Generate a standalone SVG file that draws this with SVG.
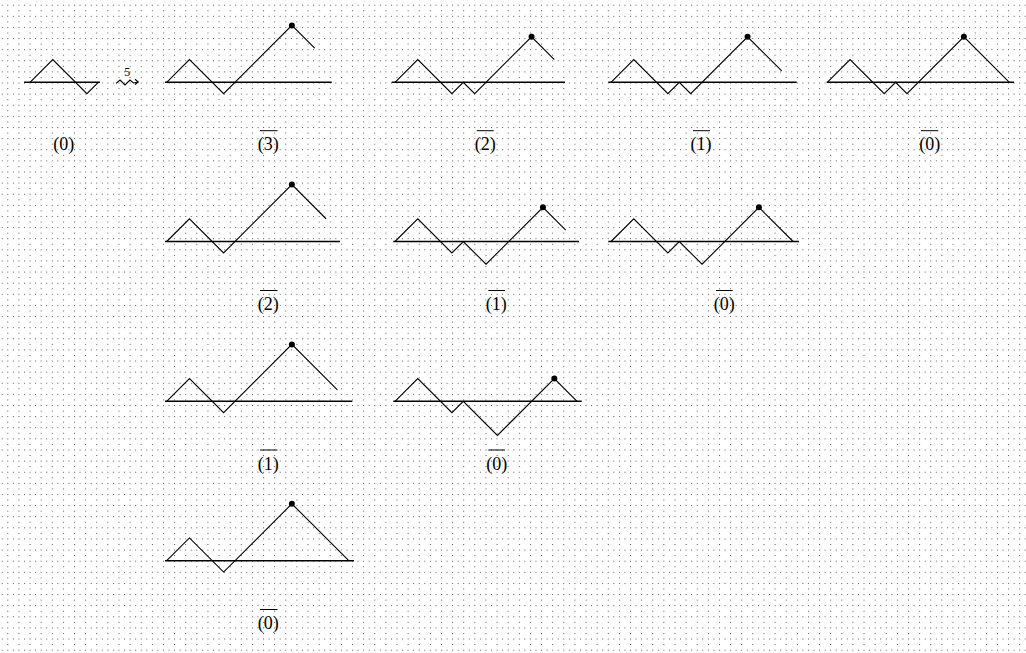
<svg xmlns="http://www.w3.org/2000/svg" width="1026" height="653" viewBox="0 0 1026 653">
<style>
.base{stroke:#000;stroke-width:1.4;fill:none}
.path{stroke:#000;stroke-width:1.1;fill:none;stroke-linejoin:miter}
.dot{fill:#000}
.lbl{font-family:"Liberation Serif","Times New Roman",serif;font-size:18px;fill:#000;text-anchor:middle}
.ov{stroke:#000;stroke-width:1}
.num{font-family:"Liberation Serif","Times New Roman",serif;font-size:12px;fill:#000;text-anchor:middle}
</style>
<defs>
<pattern id="grid" x="7.3" y="4.7" width="11.12" height="11.12" patternUnits="userSpaceOnUse">
<rect x="0" y="0" width="1" height="1" fill="#555"/>
<rect x="5.56" y="0" width="1" height="1" fill="#555"/>
<rect x="0" y="5.56" width="1" height="1" fill="#555"/>
</pattern>
</defs>
<rect x="0" y="0" width="1026" height="653" fill="#fff"/>
<rect x="0" y="0" width="1026" height="653" fill="url(#grid)"/>

<g id="f0">
<path class="base" d="M24,82.3 H100"/>
<path class="path" d="M30,82.3 l22.76,-22.76 l34.14,34.14 l11.38,-11.38"/>
<text class="lbl" x="63.7" y="150">(0)</text>
</g>

<g id="connectors">
<text class="num" x="127.3" y="76">5</text>
<path class="path" d="M116,83.3 L120,80 L125,85 L130,80 L133.5,83 L138,82"/>
<path class="path" d="M135,79.3 L138.3,82 L135,84.5"/>
</g>

<g id="f1">
<path class="base" d="M165,82.3 H331.7"/>
<path class="path" d="M166.7,82.3 l22.76,-22.76 l34.14,34.14 l68.28,-68.28 l22.76,22.76"/>
<circle class="dot" cx="291.88" cy="25.4" r="3"/>
<line class="ov" x1="260" y1="130.7" x2="277.5" y2="130.7"/>
<text class="lbl" x="268.3" y="150">(3)</text>
</g>

<g id="f2">
<path class="base" d="M391.7,82.3 H565"/>
<path class="path" d="M395,82.3 l22.76,-22.76 l34.14,34.14 l11.38,-11.38 l11.38,11.38 l56.9,-56.9 l22.76,22.76"/>
<circle class="dot" cx="531.56" cy="36.78" r="3"/>
<line class="ov" x1="476.7" y1="130.7" x2="493.7" y2="130.7"/>
<text class="lbl" x="485.3" y="150">(2)</text>
</g>

<g id="f3">
<path class="base" d="M608.3,82.3 H796.7"/>
<path class="path" d="M611,82.3 l22.76,-22.76 l34.14,34.14 l11.38,-11.38 l11.38,11.38 l56.9,-56.9 l34.14,34.14"/>
<circle class="dot" cx="747.56" cy="36.78" r="3"/>
<line class="ov" x1="693" y1="130.7" x2="710" y2="130.7"/>
<text class="lbl" x="701" y="150">(1)</text>
</g>

<g id="f4">
<path class="base" d="M826.7,82.3 H1014"/>
<path class="path" d="M827.3,82.3 l22.76,-22.76 l34.14,34.14 l11.38,-11.38 l11.38,11.38 l56.9,-56.9 l45.52,45.52"/>
<circle class="dot" cx="963.86" cy="36.78" r="3"/>
<line class="ov" x1="921" y1="130.7" x2="938.3" y2="130.7"/>
<text class="lbl" x="929.7" y="150">(0)</text>
</g>

<g id="f5">
<path class="base" d="M165,241.5 H340"/>
<path class="path" d="M166.7,241.5 l22.76,-22.76 l34.14,34.14 l68.28,-68.28 l34.14,34.14"/>
<circle class="dot" cx="291.88" cy="184.6" r="3"/>
<line class="ov" x1="260" y1="290.5" x2="277.5" y2="290.5"/>
<text class="lbl" x="268.3" y="310">(2)</text>
</g>

<g id="f6">
<path class="base" d="M393.3,241.5 H579"/>
<path class="path" d="M395,241.5 l22.76,-22.76 l34.14,34.14 l11.38,-11.38 l22.76,22.76 l56.9,-56.9 l22.76,22.76"/>
<circle class="dot" cx="542.94" cy="207.36" r="3"/>
<line class="ov" x1="488.3" y1="290.5" x2="505" y2="290.5"/>
<text class="lbl" x="496.3" y="310">(1)</text>
</g>

<g id="f7">
<path class="base" d="M608.3,241.5 H799"/>
<path class="path" d="M611,241.5 l22.76,-22.76 l34.14,34.14 l11.38,-11.38 l22.76,22.76 l56.9,-56.9 l34.14,34.14"/>
<circle class="dot" cx="758.94" cy="207.36" r="3"/>
<line class="ov" x1="716" y1="290.5" x2="732.7" y2="290.5"/>
<text class="lbl" x="724.2" y="310">(0)</text>
</g>

<g id="f8">
<path class="base" d="M165,401.3 H352.3"/>
<path class="path" d="M166.7,401.3 l22.76,-22.76 l34.14,34.14 l68.28,-68.28 l45.52,45.52"/>
<circle class="dot" cx="291.88" cy="344.4" r="3"/>
<line class="ov" x1="260" y1="450" x2="277.5" y2="450"/>
<text class="lbl" x="268.3" y="469.5">(1)</text>
</g>

<g id="f9">
<path class="base" d="M393.3,401.3 H581.7"/>
<path class="path" d="M395,401.3 l22.76,-22.76 l34.14,34.14 l11.38,-11.38 l34.14,34.14 l56.9,-56.9 l22.76,22.76"/>
<circle class="dot" cx="554.32" cy="378.54" r="3"/>
<line class="ov" x1="488.3" y1="450" x2="505" y2="450"/>
<text class="lbl" x="496.7" y="469.5">(0)</text>
</g>

<g id="f10">
<path class="base" d="M165,560.7 H354"/>
<path class="path" d="M166.7,560.7 l22.76,-22.76 l34.14,34.14 l68.28,-68.28 l56.9,56.9"/>
<circle class="dot" cx="291.88" cy="503.8" r="3"/>
<line class="ov" x1="260" y1="609.5" x2="277.5" y2="609.5"/>
<text class="lbl" x="268.3" y="629">(0)</text>
</g>
</svg>
